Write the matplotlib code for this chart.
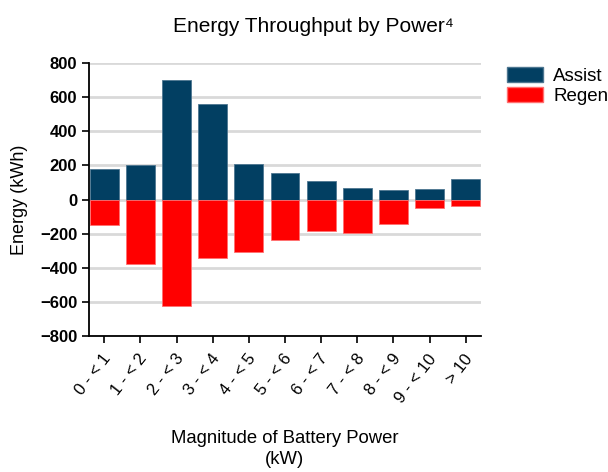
import numpy as np
import matplotlib
matplotlib.use("Agg")
from matplotlib import pyplot as plt
from matplotlib.patches import Patch
from matplotlib.transforms import ScaledTranslation

plt.rcParams['font.family'] = ['Liberation Sans', 'DejaVu Sans']

categories = ['0 - < 1', '1 - < 2', '2 - < 3', '3 - < 4', '4 - < 5', '5 - < 6',
              '6 - < 7', '7 - < 8', '8 - < 9', '9 - < 10', '> 10']
assist = [178, 202, 700, 560, 206, 157, 108, 70, 55, 62, 118]
regen = [-147, -375, -624, -341, -310, -235, -182, -194, -141, -49, -35]

fig = plt.figure(figsize=(6.08, 4.72), dpi=100)
ax = fig.add_axes([0.1464, 0.288, 0.791 - 0.1464, 0.8665 - 0.288])

x = np.arange(len(categories))
ax.bar(x, assist, width=0.8, color='#023f62', edgecolor='#4d7690', linewidth=0.6, zorder=3)
ax.bar(x, regen, width=0.8, color='#ff0000', edgecolor='#ff7070', linewidth=0.6, zorder=3)

ax.set_xlim(-0.42, 10.42)
ax.set_ylim(-800, 800)
ax.set_yticks(range(-800, 801, 200))
ax.yaxis.grid(True, color='#d9d9d9', linewidth=2.0, zorder=0)
ax.set_axisbelow(True)

for s in ['top', 'right']:
    ax.spines[s].set_visible(False)
ax.spines['left'].set_linewidth(1.3)
ax.spines['bottom'].set_linewidth(1.3)
ax.tick_params(axis='both', length=5, width=1.2, direction='out')
ax.tick_params(axis='x', pad=5)

ax.set_xticks(x)
ax.set_xticklabels(categories, rotation=52, ha='right', va='center',
                   rotation_mode='anchor', fontsize=12)
# nudge the slanted labels a little right and down, like the original
shift = ScaledTranslation(0.04, -0.06, fig.dpi_scale_trans)
for lbl in ax.get_xticklabels():
    lbl.set_transform(lbl.get_transform() + shift)
for lbl in ax.get_yticklabels():
    lbl.set_fontweight('bold')
    lbl.set_fontsize(12)

ax.set_ylabel('Energy (kWh)', fontsize=13)
ax.yaxis.set_label_coords(-0.155, 0.5)
ax.set_xlabel('Magnitude of Battery Power\n(kW)', fontsize=13.3, linespacing=1.35)
ax.xaxis.set_label_coords(0.5, -0.343)
fig.suptitle('Energy Throughput by Power\u2074', fontsize=15, x=0.516, y=0.965)

handles = [Patch(facecolor='#023f62', edgecolor='#4d7690'),
           Patch(facecolor='#ff0000', edgecolor='#ff7070')]
fig.legend(handles, ['Assist', 'Regen'], loc='upper left', bbox_to_anchor=(0.834, 0.858),
           frameon=False, fontsize=13.5, handlelength=1.92, handleheight=0.85,
           handletextpad=0.53, labelspacing=0.12, borderpad=0, borderaxespad=0)

fig.savefig('out.png', dpi=100)
